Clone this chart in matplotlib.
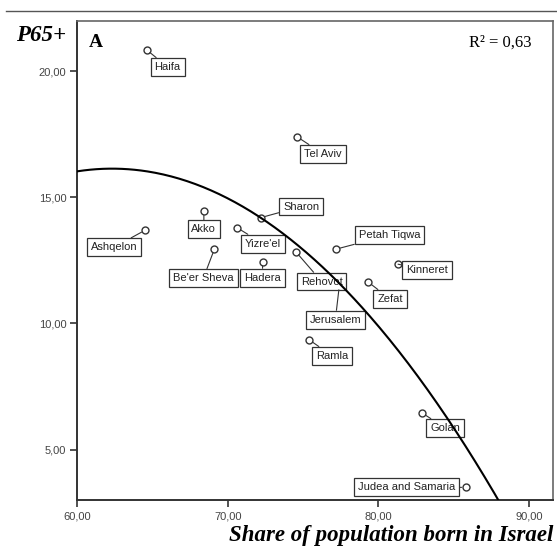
import numpy as np
import matplotlib
matplotlib.use("Agg")
import matplotlib.pyplot as plt
from matplotlib.lines import Line2D
from matplotlib.ticker import FuncFormatter

# subdistricts: share born in Israel (%) vs share aged 65+ (%)
districts = ["Haifa", "Tel Aviv", "Ashqelon", "Akko", "Yizre'el", "Be'er Sheva",
             "Hadera", "Sharon", "Petah Tiqwa", "Rehovot", "Jerusalem", "Kinneret",
             "Zefat", "Ramla", "Golan", "Judea and Samaria"]
born_israel = [64.6, 74.6, 64.5, 68.4, 70.6, 69.1, 72.3, 72.2, 77.2, 74.5, 77.4, 81.3,
               79.3, 75.4, 82.9, 85.8]
p65 = [20.85, 17.4, 13.7, 14.45, 13.8, 12.95, 12.45, 14.2, 12.95, 12.85, 11.5, 12.35,
       11.65, 9.35, 6.45, 3.5]

# quadratic fit y = k + a*(x - h)^2
fit_h, fit_k, fit_a = 62.3, 16.14, -0.01996
r_squared = 0.63

# label box offsets from each point, in pixels
label_offsets = [(21, -17), (26, -17), (-31, -17), (0, -18), (26, -16), (-11, -29),
                 (0, -16), (40, 11), (53, 14), (26, -30), (-4, -34), (29, -6),
                 (22, -17), (23, -16), (23, -15), (-59, 0)]

fig = plt.figure(figsize=(5.57, 5.5), dpi=100)
ax = fig.add_axes([0.139, 0.091, 0.854, 0.871])

ax.plot(born_israel, p65, linestyle="none", marker="o", markersize=5,
        markerfacecolor="white", markeredgecolor="#333333", markeredgewidth=1.0, zorder=2)

xs = np.linspace(60, 91.6, 300)
ax.plot(xs, fit_k + fit_a * (xs - fit_h) ** 2, color="black", lw=1.5, zorder=6)

for name, x, y, (dx, dy) in zip(districts, born_israel, p65, label_offsets):
    ax.annotate(name, xy=(x, y), xytext=(dx, dy), textcoords="offset pixels",
                ha="center", va="center", fontsize=8, family="Liberation Sans",
                color="#222222", zorder=4,
                bbox=dict(boxstyle="square,pad=0.35", fc="white", ec="#333333", lw=0.9),
                arrowprops=dict(arrowstyle="-", color="#333333", lw=0.8,
                                shrinkA=0, shrinkB=3))

ax.set_xlim(60, 91.6)
ax.set_ylim(3, 22)
ax.set_xticks([60, 70, 80, 90])
ax.set_yticks([5, 10, 15, 20])
fmt = FuncFormatter(lambda v, p: f"{v:.2f}".replace(".", ","))
ax.xaxis.set_major_formatter(fmt)
ax.yaxis.set_major_formatter(fmt)
ax.tick_params(direction="out", length=5, width=1.2, color="#333333",
               labelsize=8, labelcolor="#444444", pad=3)
for lab in ax.get_xticklabels() + ax.get_yticklabels():
    lab.set_family("Liberation Sans")
for side in ["left", "bottom"]:
    ax.spines[side].set_color("#333333")
    ax.spines[side].set_linewidth(1.4)
for side in ["top", "right"]:
    ax.spines[side].set_color("#666666")
    ax.spines[side].set_linewidth(1.2)

ax.text(0.024, 0.955, "A", transform=ax.transAxes, fontsize=14, fontweight="bold",
        family="Liberation Serif", va="center", ha="left")
ax.text(0.955, 0.955, f"R\u00b2 = {r_squared:.2f}".replace(".", ","),
        transform=ax.transAxes, fontsize=12, family="Liberation Serif",
        va="center", ha="right")

fig.text(0.074, 0.935, "P65+", fontsize=16.5, fontweight="bold", style="italic",
         family="Liberation Serif", ha="center", va="center")
fig.text(0.993, 0.026, "Share of population born in Israel", fontsize=16.5,
         fontweight="bold", style="italic", family="Liberation Serif",
         ha="right", va="center")

fig.add_artist(Line2D([0.01, 1.0], [0.98, 0.98], color="#555555", lw=1.0))

fig.savefig("out.png", dpi=100, facecolor="white")
